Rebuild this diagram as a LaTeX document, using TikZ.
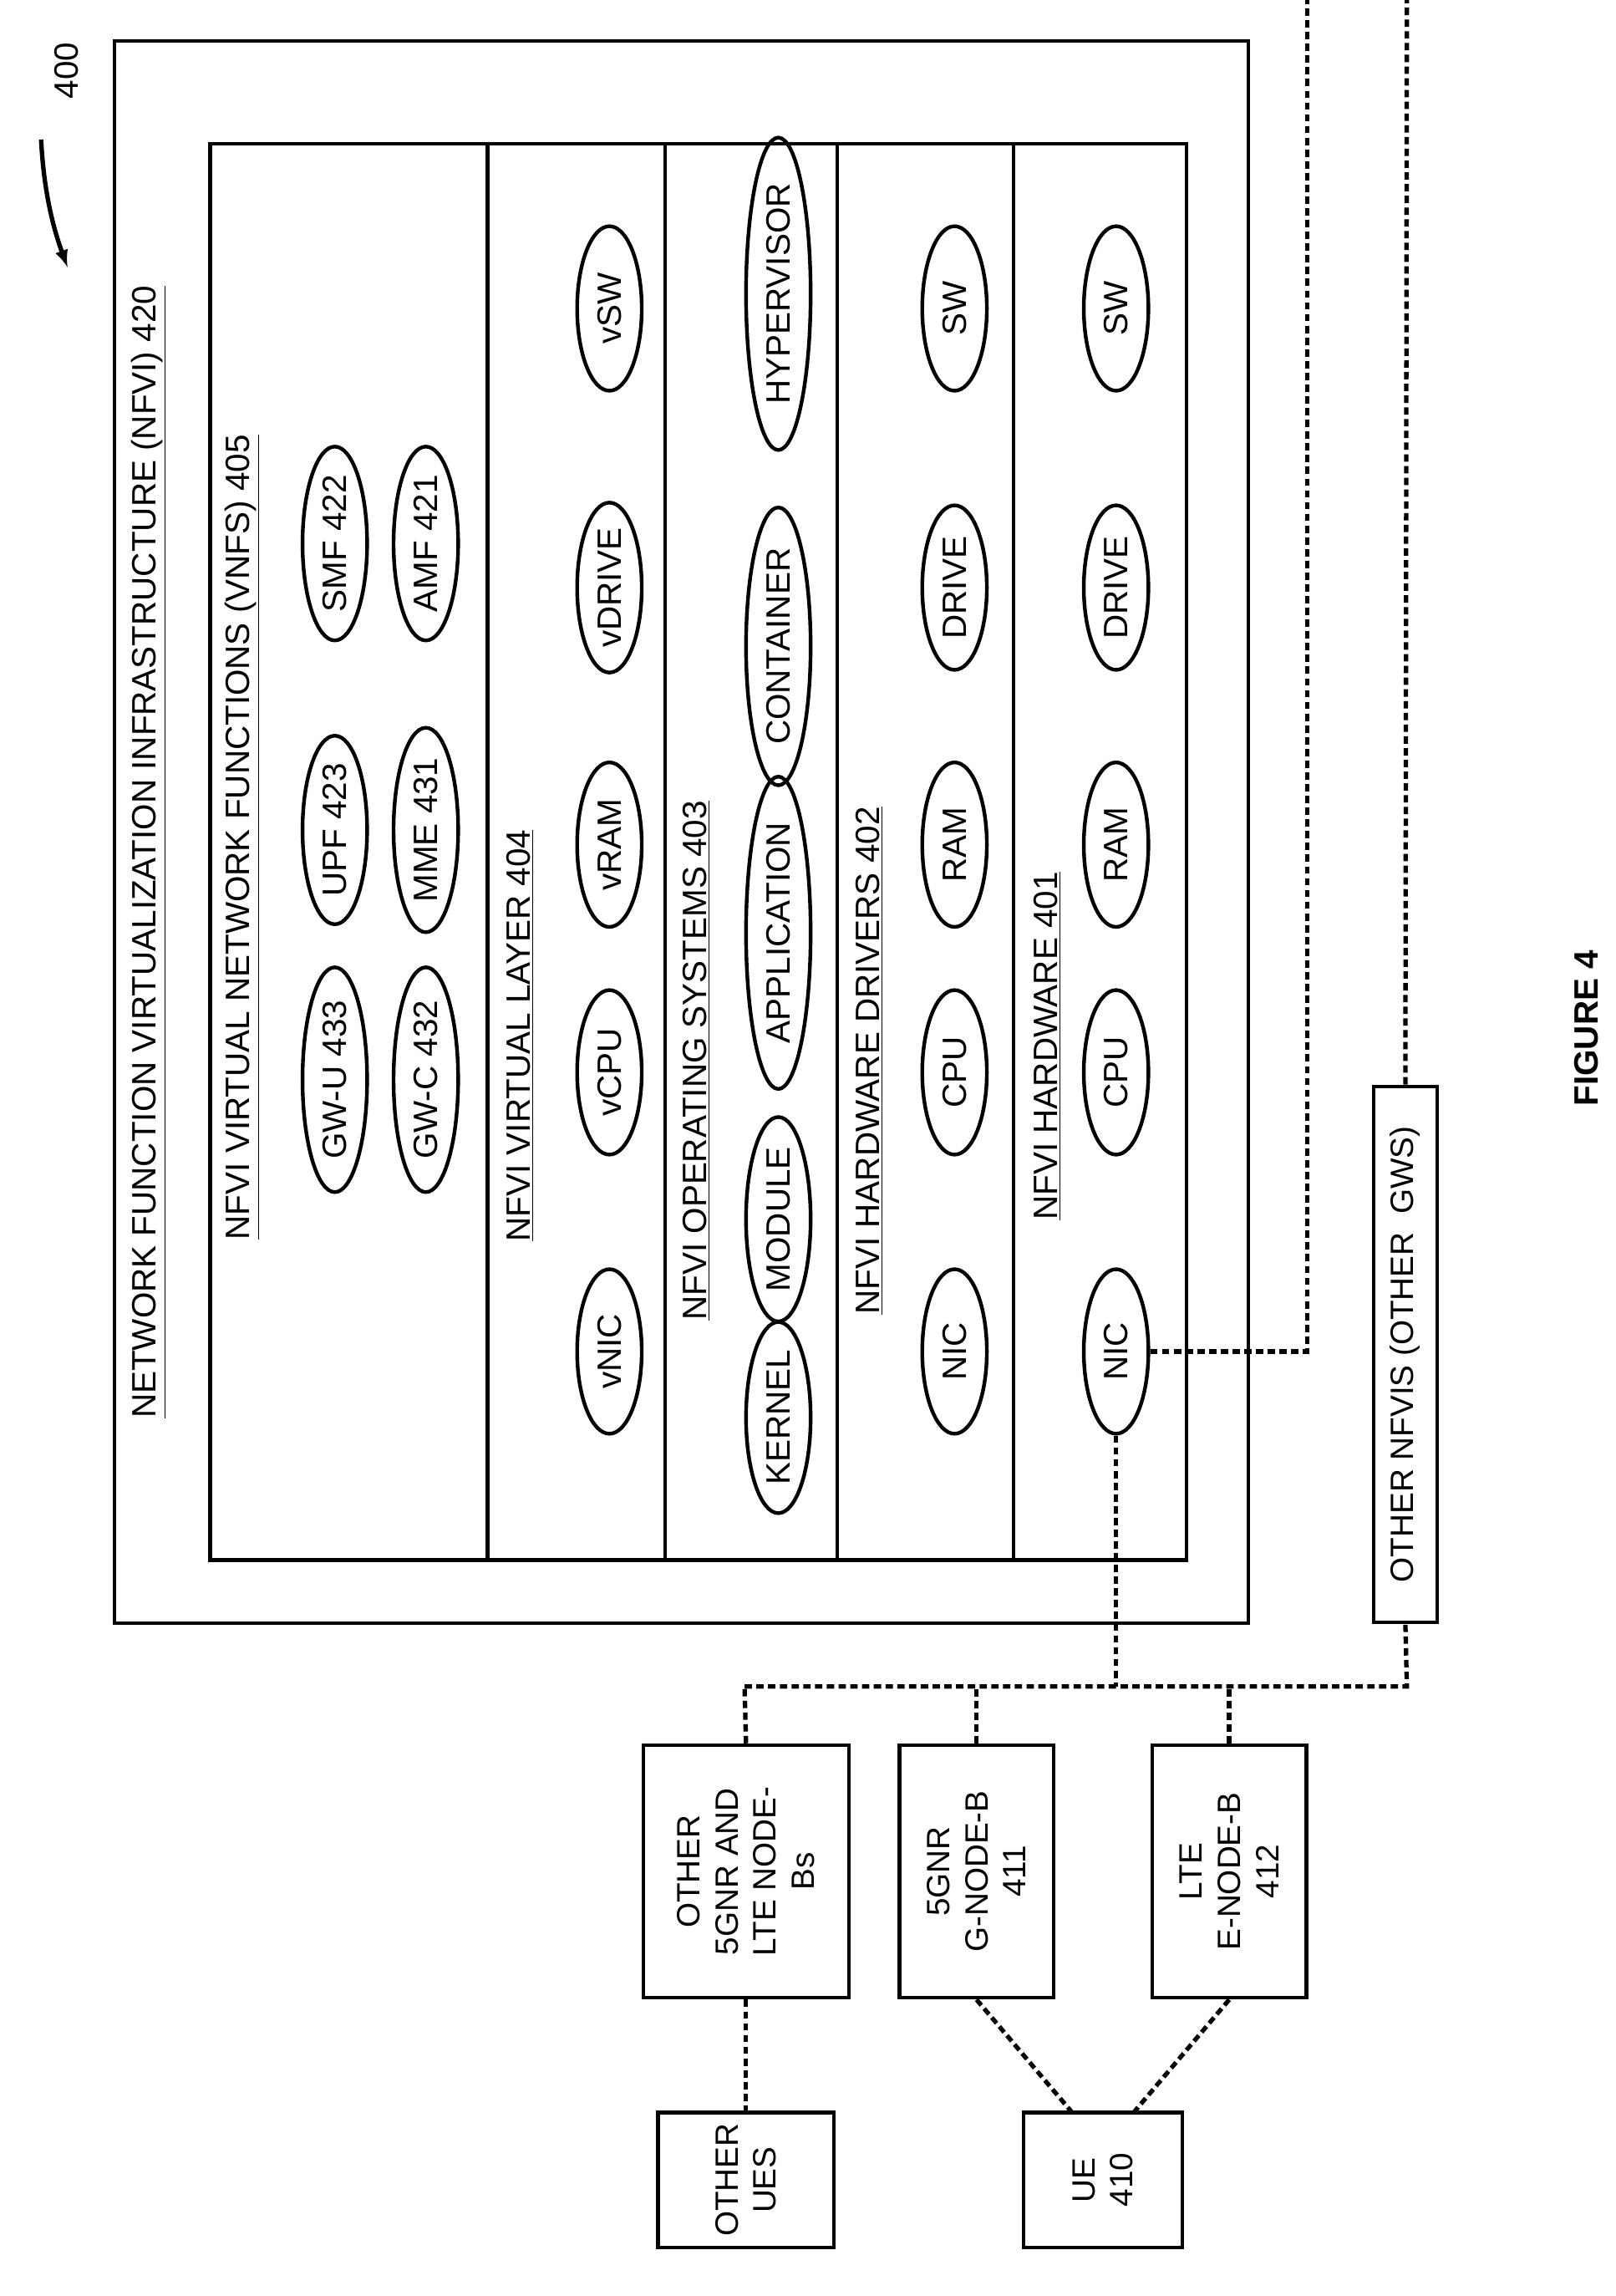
\documentclass[tikz,border=0pt]{standalone}
\usepackage{fontspec}
\setmainfont{Liberation Sans}
\usetikzlibrary{shapes.geometric}

\begin{document}
\begin{tikzpicture}[x=1pt,y=-1pt,
		line width=2.5pt,
		elp/.style={ellipse,draw,rotate=90,inner sep=0pt,minimum width=#1,minimum height=44},
		elp/.default=112,
		lbl/.style={rotate=90,inner sep=0pt},
		blk/.style={draw,rotate=90,align=center,inner sep=2pt,font=\fontsize{22}{26}\selectfont},
		dsh/.style={line width=3pt,dash pattern=on 5pt off 3pt},
		font=\fontsize{23}{27}\selectfont]
		
		\useasboundingbox (0,0) rectangle (1100,1563);
		
		%figure number
		\node[lbl] (n400) at (45,48) {400};
		\draw[->,>=latex,line width=3pt] (28,95) .. controls (30,135) and (38,160) .. (46,182);
		
		%nfvi
		\draw (78,28) rectangle (850,1105);
		\node[lbl] (nfvi) at (101,580) {\underline{NETWORK FUNCTION VIRTUALIZATION INFRASTRUCTURE (NFVI) 420}};
		\draw (143,98) rectangle (808,1062);
		\foreach \x in {332,453,570,690}
		\draw (\x,98) -- (\x,1062);
		
		%layers
		\node[lbl] (l405) at (165,570) {\underline{NFVI VIRTUAL NETWORK FUNCTIONS (VNFS) 405}};
		\node[lbl] (l404) at (354,705) {\underline{NFVI VIRTUAL LAYER 404}};
		\node[lbl] (l403) at (474,722) {\underline{NFVI OPERATING SYSTEMS 403}};
		\node[lbl] (l402) at (592,722) {\underline{NFVI HARDWARE DRIVERS 402}};
		\node[lbl] (l401) at (713,712) {\underline{NFVI HARDWARE 401}};
		
		%vnfs
		\foreach \y/\text in {735/GW-U 433, 565/UPF 423, 370/SMF 422}
		\node[elp] at (228,\y) {\text};
		\foreach \y/\text in {735/GW-C 432, 565/MME 431, 370/AMF 421}
		\node[elp] at (290,\y) {\text};
		
		%virtual layer
		\foreach \y/\text in {920/vNIC, 730/vCPU, 575/vRAM, 400/vDRIVE, 210/vSW}
		\node[elp] at (415,\y) {\text};
		
		%operating systems
		\node[elp] (kernel) at (530,965) {KERNEL};
		\node[elp] (module) at (530,830) {MODULE};
		\node[elp=158] (appl) at (530,635) {APPLICATION};
		\node[elp=140] (cont) at (530,440) {CONTAINER};
		\node[elp=155] (hyp) at (530,200) {HYPERVISOR};
		
		%drivers
		\foreach \y/\text in {920/NIC, 730/CPU, 575/RAM, 400/DRIVE, 210/SW}
		\node[elp] at (650,\y) {\text};
		
		%hardware
		\node[elp] (nicHW) at (760,920) {NIC};
		\foreach \y/\text in {730/CPU, 575/RAM, 400/DRIVE, 210/SW}
		\node[elp] at (760,\y) {\text};
		
		%other nodes
		\node[blk,minimum width=365,minimum height=43] (oN) at (957,922) {OTHER NFVIS (OTHER\ \ GWS)};
		\node[blk,minimum width=172,minimum height=140] (ob) at (508,1274) {OTHER\\5GNR AND\\LTE NODE-\\Bs};
		\node[blk,minimum width=172,minimum height=105] (gnb) at (665,1274) {5GNR\\G-NODE-B\\411};
		\node[blk,minimum width=172,minimum height=105] (enb) at (837,1274) {LTE\\E-NODE-B\\412};
		\node[blk,minimum width=92,minimum height=120] (oue) at (508,1484) {OTHER\\UES};
		\node[blk,minimum width=92,minimum height=108] (ue) at (751,1484) {UE\\410};
		
		\coordinate (bus) at (507,1148);
		\coordinate (busR) at (958,1148);
		\coordinate (topA) at (890,0);
		\coordinate (topB) at (958,0);
		\coordinate (ueA) at (730,1438);
		\coordinate (ueB) at (772,1438);
		
		%links
		\draw[dsh] (nicHW.south) -| (topA);
		\draw[dsh] (oN.east) -- (topB);
		\draw[dsh] (nicHW.west) -- (nicHW.west |- bus);
		\draw[dsh] (bus) -- (busR) -- (oN.west);
		\draw[dsh] (ob.east) -- (bus);
		\draw[dsh] (gnb.east) -- (gnb.east |- bus);
		\draw[dsh] (enb.east) -- (enb.east |- bus);
		\draw[dsh] (ob.west) -- (oue.east);
		\draw[dsh] (gnb.west) -- (ueA);
		\draw[dsh] (enb.west) -- (ueB);
		
		\node[lbl,font=\fontsize{23}{27}\selectfont\bfseries] (fig) at (1080,700) {FIGURE 4};
		
\end{tikzpicture}
\end{document}
